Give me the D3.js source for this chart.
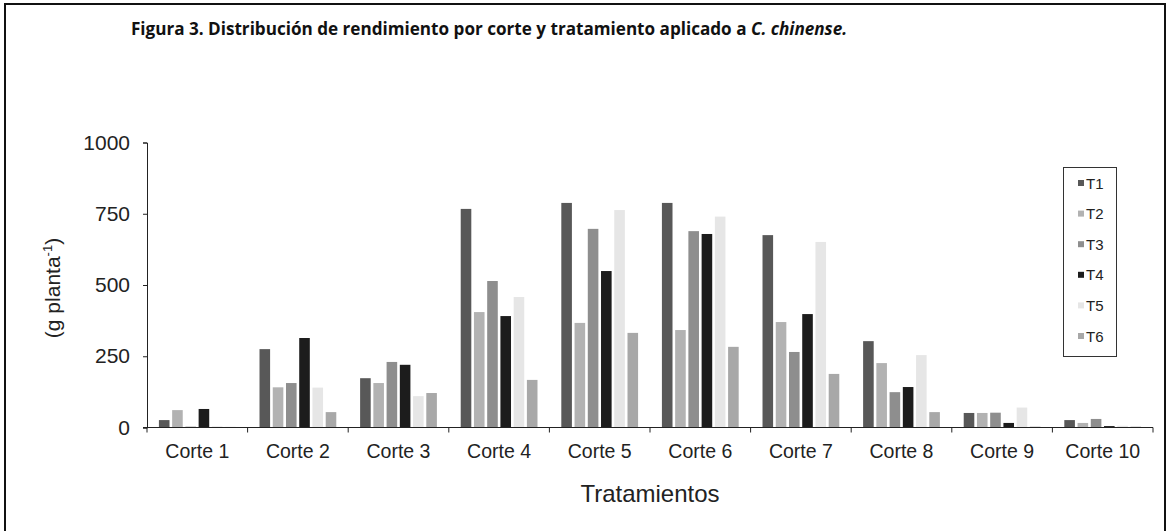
<!DOCTYPE html>
<html>
<head>
<meta charset="utf-8">
<script src="https://cdn.jsdelivr.net/npm/d3@7"></script>
<style>
  body { margin: 0; background: #fff; }
  svg { display: block; }
</style>
</head>
<body>
<script>
var categories = ['Corte 1', 'Corte 2', 'Corte 3', 'Corte 4', 'Corte 5',
                  'Corte 6', 'Corte 7', 'Corte 8', 'Corte 9', 'Corte 10'];
var seriesNames = ['T1', 'T2', 'T3', 'T4', 'T5', 'T6'];
var t1 = [26, 275, 173, 767, 788, 788, 675, 303, 51, 26];
var t2 = [61, 141, 156, 405, 367, 342, 370, 226, 51, 16];
var t3 = [3, 156, 230, 514, 697, 689, 265, 124, 52, 30];
var t4 = [65, 314, 220, 391, 549, 679, 398, 142, 16, 5];
var t5 = [4, 140, 110, 458, 763, 740, 651, 254, 70, 6];
var t6 = [2, 54, 121, 167, 332, 283, 188, 54, 3, 3];
var yTicks = [0, 250, 500, 750, 1000];
var seriesColors = ['#585858', '#b2b2b2', '#8e8e8e', '#1c1c1c', '#e6e6e6', '#a8a8a8'];

var width = 1169, height = 531;
var plot = { left: 147, right: 1153, top: 142.5, bottom: 427.5 };
var allSeries = [t1, t2, t3, t4, t5, t6];
var sans = 'Liberation Sans, Arial, sans-serif';

var svg = d3.select('body').append('svg')
  .attr('width', width)
  .attr('height', height);

// frame around the figure
svg.append('path')
  .attr('d', 'M5,540 L5,4 L1165,4 L1165,540')
  .attr('fill', 'none')
  .attr('stroke', '#111')
  .attr('stroke-width', 2);

// title, squeezed horizontally to the width of the original
var title = svg.append('text')
  .attr('x', 0)
  .attr('y', 0)
  .attr('text-anchor', 'middle')
  .attr('font-family', 'Open Sans, sans-serif')
  .attr('font-weight', 'bold')
  .attr('font-size', 18)
  .attr('fill', '#111');
title.append('tspan').text('Figura 3. Distribución de rendimiento por corte y tratamiento aplicado a ');
title.append('tspan').attr('font-style', 'italic').text('C. chinense.');
var titleW = title.node().getBBox().width;
title.attr('transform', 'translate(489,35) scale(' + (717 / titleW) + ',1)');

// scales
var x0 = d3.scaleBand()
  .domain(categories)
  .range([plot.left, plot.right])
  .paddingInner(0)
  .paddingOuter(0);

var x1 = d3.scaleBand()
  .domain(seriesNames)
  .range([0, x0.bandwidth()])
  .paddingInner(0.2)
  .paddingOuter(0.9);

var y = d3.scaleLinear()
  .domain([0, 1000])
  .range([plot.bottom, plot.top]);

// bars
var groups = svg.append('g').selectAll('g')
  .data(categories)
  .enter()
  .append('g')
  .attr('transform', function(d) { return 'translate(' + x0(d) + ',0)'; });

groups.selectAll('rect')
  .data(function(d, i) {
    return seriesNames.map(function(s, j) { return { s: s, v: allSeries[j][i], c: seriesColors[j] }; });
  })
  .enter()
  .append('rect')
  .attr('x', function(d) { return x1(d.s); })
  .attr('y', function(d) { return y(d.v); })
  .attr('width', x1.bandwidth())
  .attr('height', function(d) { return plot.bottom - y(d.v); })
  .attr('fill', function(d) { return d.c; });

// left axis
var leftAxis = svg.append('g')
  .attr('transform', 'translate(' + plot.left + ',0)')
  .call(d3.axisLeft(y).tickValues(yTicks).tickFormat(d3.format('d'))
    .tickSizeOuter(0).tickSize(4).tickPadding(13));
styleAxis(leftAxis);
leftAxis.selectAll('text')
  .attr('font-size', 21);

// bottom axis: ticks on category boundaries, labels centred
var boundaries = categories.map(function(d) { return x0(d); }).concat([plot.right]);
var xb = svg.append('g');
xb.append('line')
  .attr('x1', plot.left - 4).attr('x2', plot.right)
  .attr('y1', plot.bottom).attr('y2', plot.bottom)
  .attr('stroke', '#222');
xb.selectAll('.btick')
  .data(boundaries)
  .enter()
  .append('line')
  .attr('x1', function(d) { return d; })
  .attr('x2', function(d) { return d; })
  .attr('y1', plot.bottom)
  .attr('y2', plot.bottom + 5)
  .attr('stroke', '#222');
xb.selectAll('.blabel')
  .data(categories)
  .enter()
  .append('text')
  .attr('x', function(d) { return x0(d) + x0.bandwidth() / 2; })
  .attr('y', 458)
  .attr('text-anchor', 'middle')
  .attr('font-family', sans)
  .attr('font-size', 19.5)
  .attr('fill', '#222')
  .text(function(d) { return d; });

// axis titles
svg.append('text')
  .attr('x', 650)
  .attr('y', 502)
  .attr('text-anchor', 'middle')
  .attr('font-family', sans)
  .attr('font-size', 24)
  .attr('fill', '#222')
  .text('Tratamientos');

var ylab = svg.append('text')
  .attr('transform', 'translate(60,288) rotate(-90)')
  .attr('text-anchor', 'middle')
  .attr('font-family', sans)
  .attr('font-size', 21)
  .attr('fill', '#222');
ylab.append('tspan').text('(g planta');
ylab.append('tspan').attr('dy', -8).attr('font-size', 13).text('-1');
ylab.append('tspan').attr('dy', 8).text(')');

// legend
var legend = svg.append('g');
legend.append('rect')
  .attr('x', 1063.5).attr('y', 167.5)
  .attr('width', 53).attr('height', 189)
  .attr('fill', '#fff')
  .attr('stroke', '#333');
var items = legend.selectAll('.item')
  .data(seriesNames)
  .enter()
  .append('g')
  .attr('transform', function(d, i) { return 'translate(1078,' + (183 + i * 30.6) + ')'; });
items.append('rect')
  .attr('x', 0).attr('y', -3)
  .attr('width', 6).attr('height', 6)
  .attr('fill', function(d, i) { return seriesColors[i]; });
items.append('text')
  .attr('x', 8)
  .attr('y', 5.5)
  .attr('font-family', sans)
  .attr('font-size', 15)
  .attr('fill', '#222')
  .text(function(d) { return d; });

function styleAxis(g) {
  g.selectAll('.domain').attr('stroke', '#222');
  g.selectAll('.tick line').attr('stroke', '#222');
  g.selectAll('text')
    .attr('font-family', sans)
    .attr('fill', '#222');
}
</script>
</body>
</html>
